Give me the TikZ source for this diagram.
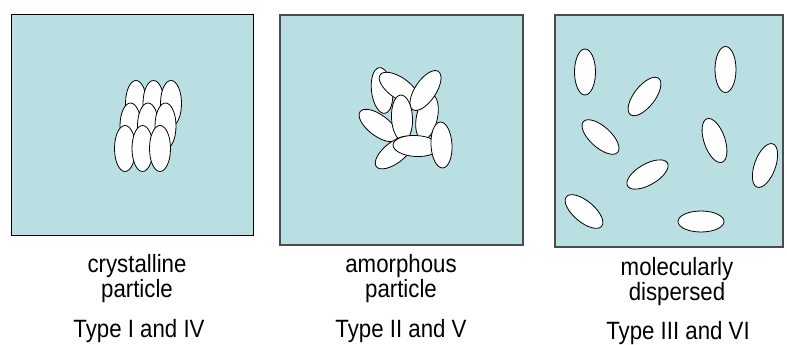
\documentclass[tikz,border=0pt]{standalone}
\usepackage{fontspec}
\newfontfamily\labelfont{Liberation Sans}[FakeStretch=0.89]
\usepackage{tikz}

\definecolor{panelfill}{RGB}{186,223,226}

% one particle: centre x, centre y, angle of the long axis
\newcommand{\particle}[3]{%
  \draw[particle, rotate around={#3:(#1,#2)}] (#1,#2) ellipse [x radius=\prx, y radius=\pry];}

\begin{document}
\begin{tikzpicture}[x=1pt, y=-1pt,
    panel/.style={fill=panelfill, draw=black!70, line width=1.2pt},
    particle/.style={fill=white, draw=black, line width=0.8pt},
    lbl/.style={font=\labelfont\fontsize{25}{25}\selectfont, align=center, anchor=base, inner sep=0pt}]
    % Half axes of a particle
    \def\prx{23}
    \def\pry{10.5}

    \useasboundingbox (0,0) rectangle (787,345);

    % Draw the three panels
    \draw[panel, draw=black, line width=0.9pt] (11,14) rectangle (253,235);
    \draw[panel] (280,15) rectangle (523,245);
    \draw[panel, line width=1.6pt] (555,15) rectangle (783,247);

    % Crystalline: 3x3 packed lattice, back row first
    \foreach \row in {0,1,2} {
        \foreach \col in {0,1,2} {
            \particle{136+17.5*\col-5.5*\row}{103.5+22.5*\row}{90}
        }
    }

    % Amorphous: random heap
    \particle{382}{90.5}{97}
    \particle{399}{88}{-35}
    \particle{427}{117}{78}
    \particle{425.5}{90.5}{56}
    \particle{378.5}{125.5}{-37}
    \particle{402}{118}{93}
    \particle{394.5}{152.5}{38}
    \particle{416}{146}{-3}
    \particle{441.5}{145}{93}

    % Molecularly dispersed: spread over the panel
    \particle{585}{72}{90}
    \particle{725.5}{69.5}{90}
    \particle{644.5}{96.5}{52}
    \particle{600.5}{137}{-42}
    \particle{714.5}{140.5}{109}
    \particle{765}{165.5}{70}
    \particle{647.5}{174.5}{30}
    \particle{584}{211.5}{-40}
    \particle{701}{221.5}{0}

    % Labels under the panels (base = last line)
    \node[lbl] (crystalLbl) at (137,297) {crystalline\\particle};
    \node[lbl] (crystalType) at (139,337) {Type I and IV};
    \node[lbl] (amorphLbl) at (401,297) {amorphous\\particle};
    \node[lbl] (amorphType) at (401,337) {Type II and V};
    \node[lbl] (dispLbl) at (677,300) {molecularly\\dispersed};
    \node[lbl] (dispType) at (678,339.5) {Type III and VI};
\end{tikzpicture}
\end{document}
